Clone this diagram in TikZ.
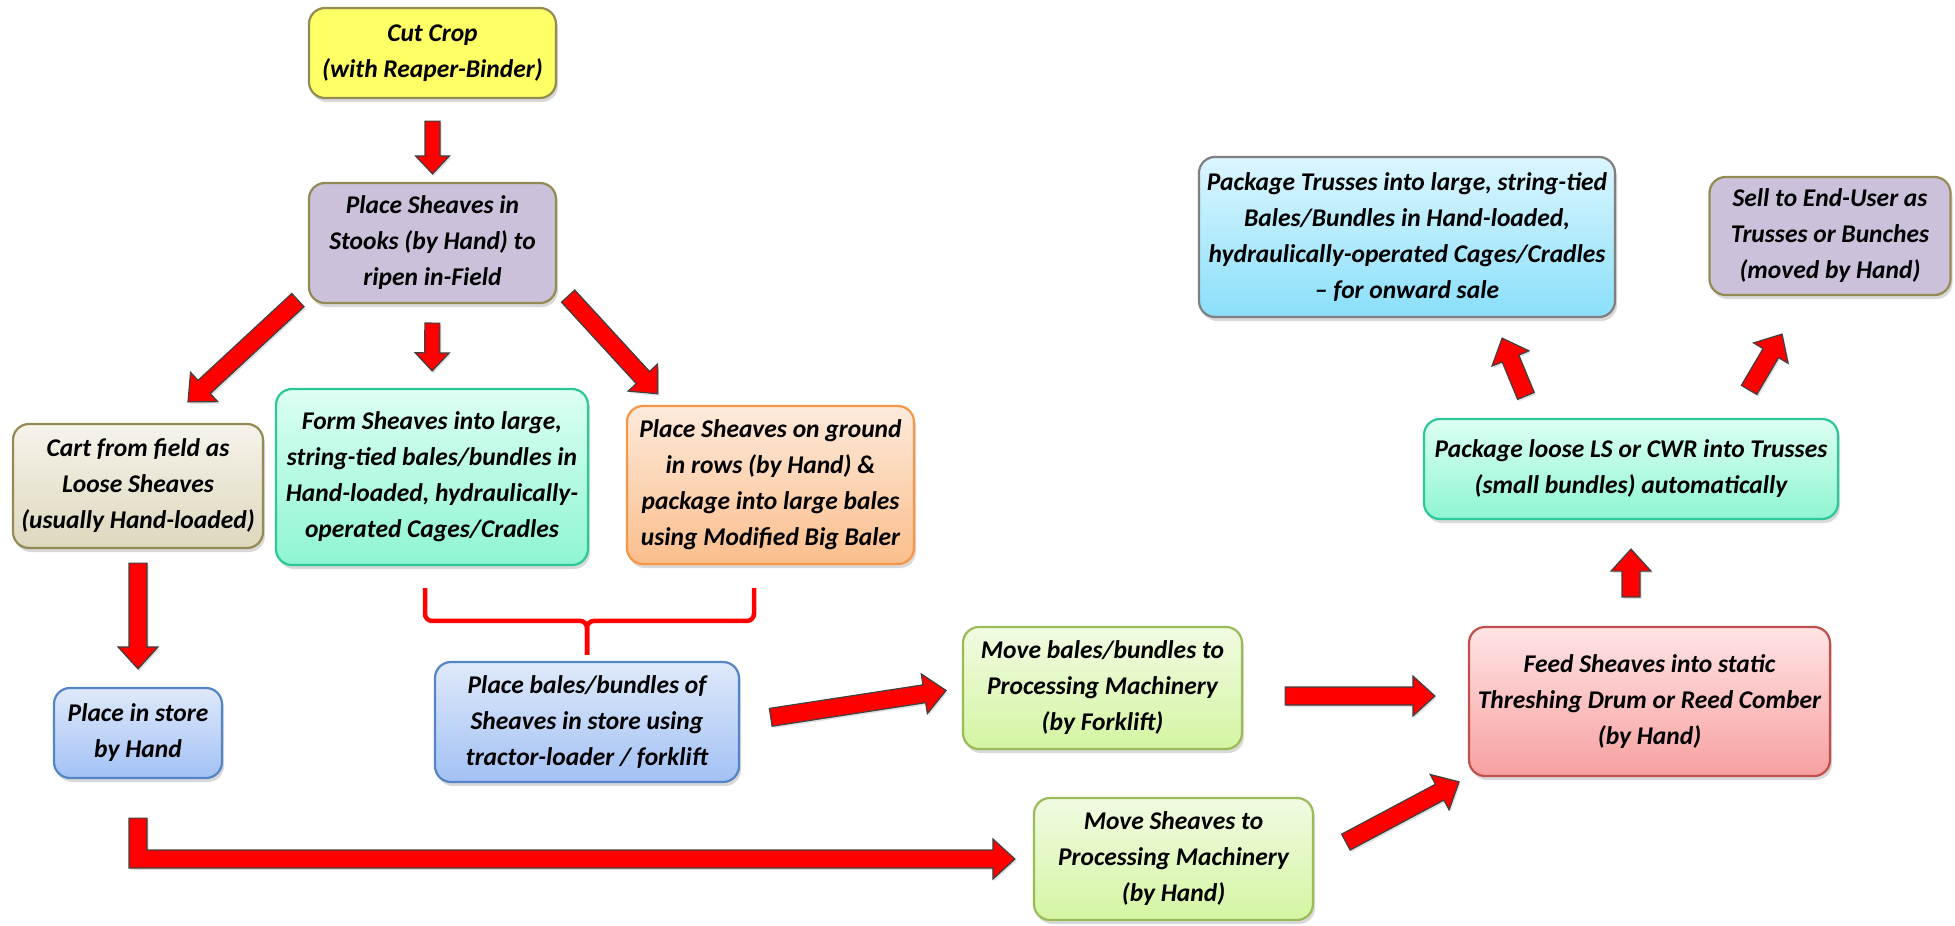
\documentclass[tikz,border=0pt]{standalone}
\usepackage{fontspec}
\setmainfont{Carlito}
\usepackage{tikz}
\usetikzlibrary{positioning,calc,shadows}

\definecolor{arrowred}{HTML}{FF0000}
\definecolor{olive}{HTML}{948A54}
\definecolor{cutfill}{HTML}{FFFF66}
\definecolor{stookfill}{HTML}{CCC1DA}
\definecolor{carttop}{HTML}{F6F3EA}
\definecolor{cartbot}{HTML}{DDD8BE}
\definecolor{minttop}{HTML}{DDFFF3}
\definecolor{mintbot}{HTML}{8EF5D2}
\definecolor{mintline}{HTML}{2CC79A}
\definecolor{peachtop}{HTML}{FDEADB}
\definecolor{peachbot}{HTML}{FBBE8C}
\definecolor{peachline}{HTML}{F79646}
\definecolor{bluetop}{HTML}{DFE9FA}
\definecolor{bluebot}{HTML}{A2C1F5}
\definecolor{blueline}{HTML}{5585C4}
\definecolor{greentop}{HTML}{F1FBE2}
\definecolor{greenbot}{HTML}{D4F5A2}
\definecolor{greenline}{HTML}{9BBB59}
\definecolor{pinktop}{HTML}{FFE4E4}
\definecolor{pinkbot}{HTML}{F7A0A0}
\definecolor{pinkline}{HTML}{C0504D}
\definecolor{skytop}{HTML}{DCF6FF}
\definecolor{skybot}{HTML}{8ADFFA}
\definecolor{skyline}{HTML}{7F7F7F}

\tikzset{
	fat start/.store in=\fatstart, fat start=0pt,
	fat end/.store in=\fatend, fat end=0pt,
	fat shaft/.store in=\fatshaft, fat shaft=9pt,
	fat head/.store in=\fathead, fat head=20pt,
	fat tip/.store in=\fattip, fat tip=22pt,
	smallarrow/.style={fat shaft=7.5pt, fat head=17pt, fat tip=18pt},
	fatarrow/.style={draw=black!75, fill=arrowred, line width=1.2pt, line join=miter,
		drop shadow={shadow xshift=1.5pt, shadow yshift=-2pt, opacity=0.25},
		to path={let \p1=(\tikztostart), \p2=(\tikztotarget),
			\n1={atan2(\y2-\y1,\x2-\x1)},
			\n2={veclen(\x2-\x1,\y2-\y1)-\fatend},
			\n3={\n2-\fattip} in
			($(\p1)+(\n1:\fatstart)+({\n1+90}:\fatshaft)$)
			-- ($(\p1)+(\n1:\n3)+({\n1+90}:\fatshaft)$)
			-- ($(\p1)+(\n1:\n3)+({\n1+90}:\fathead)$)
			-- ($(\p1)+(\n1:\n2)$)
			-- ($(\p1)+(\n1:\n3)+({\n1-90}:\fathead)$)
			-- ($(\p1)+(\n1:\n3)+({\n1-90}:\fatshaft)$)
			-- ($(\p1)+(\n1:\fatstart)+({\n1-90}:\fatshaft)$) -- cycle}},
	fatelbow/.style={draw=black!75, fill=arrowred, line width=1.2pt, line join=miter,
		drop shadow={shadow xshift=1.5pt, shadow yshift=-2pt, opacity=0.25},
		to path={let \p1=(\tikztostart), \p2=(\tikztotarget) in
			(\x1-\fatshaft,\y1-\fatstart) -- (\x1-\fatshaft,\y2-\fatshaft)
			-- (\x2-\fatend-\fattip,\y2-\fatshaft) -- (\x2-\fatend-\fattip,\y2-\fathead)
			-- (\x2-\fatend,\y2) -- (\x2-\fatend-\fattip,\y2+\fathead)
			-- (\x2-\fatend-\fattip,\y2+\fatshaft) -- (\x1+\fatshaft,\y2+\fatshaft)
			-- (\x1+\fatshaft,\y1-\fatstart) -- cycle}},
	box/.style={rounded corners=16pt, line width=2.2pt, align=center, inner sep=0pt,
		font=\fontsize{25.5}{36}\selectfont\bfseries\itshape,
		drop shadow={shadow xshift=2pt, shadow yshift=-4pt, opacity=0.3}},
	yellowbox/.style={box, draw=olive, fill=cutfill},
	lilacbox/.style={box, draw=olive, fill=stookfill},
	beigebox/.style={box, draw=olive, top color=carttop, bottom color=cartbot},
	mintbox/.style={box, draw=mintline, top color=minttop, bottom color=mintbot},
	peachbox/.style={box, draw=peachline, top color=peachtop, bottom color=peachbot},
	bluebox/.style={box, draw=blueline, top color=bluetop, bottom color=bluebot},
	greenbox/.style={box, draw=greenline, top color=greentop, bottom color=greenbot},
	pinkbox/.style={box, draw=pinkline, top color=pinktop, bottom color=pinkbot},
	skybox/.style={box, draw=skyline, top color=skytop, bottom color=skybot},
	bracestyle/.style={draw=arrowred, line width=4.5pt, rounded corners=7pt}
}

\begin{document}
\begin{tikzpicture}[x=1pt,y=-1pt]
	\useasboundingbox (0,0) rectangle (1955,926);
	% boxes
	\node[yellowbox, minimum width=247pt, minimum height=90pt] (cut) at (432.5,53) {Cut Crop\\(with Reaper-Binder)};
	\node[lilacbox, minimum width=247pt, minimum height=120pt] (stooks) at (432.5,243) {Place Sheaves in\\Stooks (by Hand) to\\ripen in-Field};
	\node[beigebox, minimum width=250pt, minimum height=124pt] (cart) at (138,486) {Cart from field as\\Loose Sheaves\\(usually Hand-loaded)};
	\node[mintbox, minimum width=312pt, minimum height=176pt] (form) at (432,477) {Form Sheaves into large,\\string-tied bales/bundles in\\Hand-loaded, hydraulically-\\operated Cages/Cradles};
	\node[peachbox, minimum width=287pt, minimum height=158pt] (ground) at (770.5,485) {Place Sheaves on ground\\in rows (by Hand) \&\\package into large bales\\using Modified Big Baler};
	\node[bluebox, minimum width=168pt, minimum height=90pt] (store) at (138,733) {Place in store\\by Hand};
	\node[bluebox, minimum width=304pt, minimum height=120pt] (bales) at (587,722) {Place bales/bundles of\\Sheaves in store using\\tractor-loader / forklift};
	\node[greenbox, minimum width=279pt, minimum height=122pt] (movebales) at (1102.5,688) {Move bales/bundles to\\Processing Machinery\\(by Forklift)};
	\node[greenbox, minimum width=279pt, minimum height=122pt] (movehand) at (1173.5,859) {Move Sheaves to\\Processing Machinery\\(by Hand)};
	\node[pinkbox, minimum width=361pt, minimum height=149pt] (feed) at (1649.5,701.5) {Feed Sheaves into static\\Threshing Drum or Reed Comber\\(by Hand)};
	\node[mintbox, minimum width=414pt, minimum height=100pt] (loose) at (1631,469) {Package loose LS or CWR into Trusses\\(small bundles) automatically};
	\node[skybox, minimum width=416pt, minimum height=160pt] (trusses) at (1407,237) {Package Trusses into large, string-tied\\Bales/Bundles in Hand-loaded,\\hydraulically-operated Cages/Cradles\\-- for onward sale};
	\node[lilacbox, minimum width=241pt, minimum height=118pt] (sell) at (1830,236) {Sell to End-User as\\Trusses or Bunches\\(moved by Hand)};
	% brace
	\coordinate (braceL) at (425,588);
	\coordinate (braceR) at (754,588);
	\draw[bracestyle] (braceL) |- ([yshift=40pt]bales.north) -- ([yshift=6pt]bales.north);
	\draw[bracestyle] (braceR) |- ([yshift=40pt]bales.north) -- ([yshift=6pt]bales.north);
	% arrows
	\draw[fatarrow, smallarrow, fat start=22pt, fat end=8pt] (cut.south) to (stooks.north);
	\draw[fatarrow] ([xshift=-10pt,yshift=4pt]stooks.south west) to ([xshift=50pt,yshift=21pt]cart.north);
	\draw[fatarrow, smallarrow, fat start=19pt, fat end=17pt] (stooks.south) to (form.north);
	\draw[fatarrow] ([xshift=11pt,yshift=8pt]stooks.south east) to ([xshift=32pt,yshift=11pt]ground.north west);
	\draw[fatarrow, fat start=14pt, fat end=18pt] (cart.south) to (store.north);
	\draw[fatarrow, fat start=31pt, fat end=16pt] (bales.east) to (movebales.west);
	\draw[fatarrow, fat start=42pt, fat end=33pt] ([yshift=-8pt]movebales.east) to ([yshift=5.5pt]feed.west);
	\draw[fatelbow, fat start=39pt, fat end=18pt] (store.south) to (movehand.west);
	\draw[fatarrow, fat start=36pt, fat end=10pt] (movehand.east) to (feed.south west);
	\draw[fatarrow, fat start=29pt, fat end=29pt] ([xshift=-18.5pt]feed.north) to (loose.south);
	\draw[fatarrow] ([xshift=103pt,yshift=22pt]loose.north west) to ([xshift=-114pt,yshift=-20pt]trusses.south east);
	\draw[fatarrow] ([xshift=-90pt,yshift=28pt]loose.north east) to ([xshift=-48pt,yshift=-38pt]sell.south);
\end{tikzpicture}
\end{document}
